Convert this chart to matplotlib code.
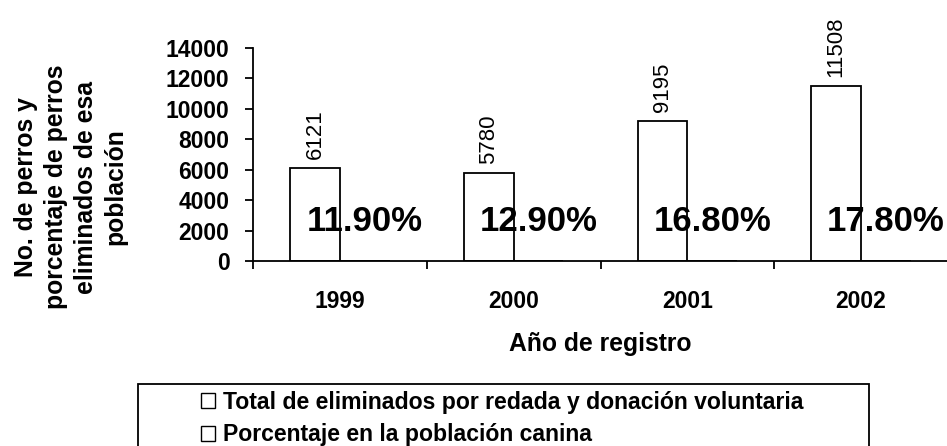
import matplotlib
matplotlib.use("Agg")
import matplotlib.pyplot as plt
from matplotlib.patches import Rectangle
import numpy as np

plt.rcParams['font.family'] = ['Liberation Sans', 'DejaVu Sans']

years = ['1999', '2000', '2001', '2002']
eliminados = [6121, 5780, 9195, 11508]
porcentaje = [11.90, 12.90, 16.80, 17.80]
series_names = ['Total de eliminados por redada y donación voluntaria',
                'Porcentaje en la población canina']
yticks = [0, 2000, 4000, 6000, 8000, 10000, 12000, 14000]

W, H = 947, 446
fig = plt.figure(figsize=(W / 100, H / 100), dpi=100)
fig.patch.set_facecolor('white')
ax = fig.add_axes([253 / W, 185 / H, 695 / W, 213 / H])

centers = np.arange(len(years)) + 0.5
bw = 0.287
ax.bar(centers - bw / 2, eliminados, width=bw, color='white',
       edgecolor='black', linewidth=1.3, zorder=2)
pct_heights = [p / 100 for p in porcentaje]
ax.bar(centers + bw / 2, pct_heights, width=bw, color='white',
       edgecolor='black', linewidth=1.3, zorder=2)

for c, v in zip(centers, eliminados):
    ax.annotate(f'{v}', xy=(c - bw / 2, v), xytext=(0, 6.5),
                textcoords='offset points', rotation=90, ha='center',
                va='bottom', fontsize=16, color='black')
for c, p, h in zip(centers, porcentaje, pct_heights):
    ax.annotate(f'{p:.2f}%', xy=(c + bw / 2, h), xytext=(0, 21.6),
                textcoords='offset points', ha='center', va='baseline',
                fontsize=25, fontweight='bold', color='black', zorder=5)

ax.set_xlim(0, 4)
ax.set_ylim(0, 14000)
ax.set_yticks(yticks)
ax.set_yticklabels([str(t) for t in yticks])
ax.set_xticks(np.arange(0, 5))
ax.set_xticklabels([])
ax.set_xticks(centers, minor=True)
ax.set_xticklabels(years, minor=True)

for s in ['top', 'right']:
    ax.spines[s].set_visible(False)
for s in ['left', 'bottom']:
    ax.spines[s].set_linewidth(1.3)
ax.tick_params(axis='y', direction='out', length=6, width=1.3,
               labelsize=16.5, pad=11)
ax.tick_params(axis='x', which='major', direction='out', length=6, width=1.3)
ax.tick_params(axis='x', which='minor', length=0, labelsize=16.5, pad=21)
for lab in ax.get_yticklabels() + ax.get_xticklabels(minor=True):
    lab.set_fontweight('bold')

fig.text(71 / W, 1 - 187 / H,
         'No. de perros y\nporcentaje de perros\neliminados de esa\npoblación',
         rotation=90, ha='center', va='center', multialignment='center',
         fontsize=17.8, fontweight='bold', linespacing=1.3,
         rotation_mode='anchor')
fig.text(600 / W, 1 - 344 / H, 'Año de registro', ha='center', va='center',
         fontsize=17.8, fontweight='bold')

# legend
fig.patches.append(Rectangle((138 / W, -0.05), (869 - 138) / W,
                             (1 - 384 / H) + 0.05, transform=fig.transFigure,
                             facecolor='none', edgecolor='black',
                             linewidth=1.3))
handles = [Rectangle((0, 0), 1, 1, facecolor='white', edgecolor='black',
                     linewidth=1.0) for _ in series_names]
fig.legend(handles, series_names, loc='upper left',
           bbox_to_anchor=(201 / W, 1 - 391 / H), frameon=False,
           borderpad=0, borderaxespad=0, handlelength=0.62,
           handleheight=0.62, handletextpad=0.35, labelspacing=0.4,
           prop={'size': 16.6, 'weight': 'bold'})

fig.savefig('out.png', dpi=100, facecolor='white')
